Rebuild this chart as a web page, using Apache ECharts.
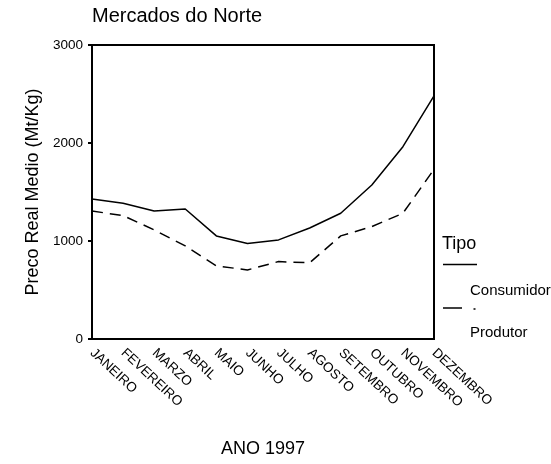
<!DOCTYPE html>
<html><head><meta charset="utf-8">
<script src="https://cdn.jsdelivr.net/npm/echarts@6/dist/echarts.min.js"></script>
<style>html,body{margin:0;padding:0;background:#fff}#c{width:551px;height:464px}</style>
</head><body><div id="c"></div>
<script>
const months = ["JANEIRO","FEVEREIRO","MARZO","ABRIL","MAIO","JUNHO","JULHO","AGOSTO","SETEMBRO","OUTUBRO","NOVEMBRO","DEZEMBRO"];
const consumidor = [1429,1385,1306,1327,1052,974,1011,1133,1283,1571,1962,2481];
const produtor = [1306,1259,1113,950,746,705,790,778,1052,1147,1283,1731];
const seriesNames = ["Consumidor","Produtor"];
const yTicks = [0,1000,2000,3000];
const title = "Mercados do Norte";
const xName = "ANO 1997";
const yName = "Preco Real Medio (Mt/Kg)";
const legendTitle = "Tipo";

const font = "Liberation Sans, Arial, sans-serif";
const chart = echarts.init(document.getElementById('c'));
chart.setOption({
  animation:false,
  backgroundColor:'#fff',
  title:{text:title,left:92,top:6,padding:0,textStyle:{fontFamily:font,fontSize:20,fontWeight:'normal',color:'#000'}},
  grid:{left:92,right:117,top:45,bottom:125,show:true,borderColor:'#000',borderWidth:2,backgroundColor:'transparent'},
  xAxis:{type:'category',data:months,boundaryGap:false,
    axisLine:{lineStyle:{color:'#000',width:2}},axisTick:{show:false},
    axisLabel:{rotate:-43,fontFamily:font,fontSize:13.5,color:'#000',margin:12,interval:0},
    name:xName,nameLocation:'middle',nameGap:101,nameMoveOverlap:false,
    nameTextStyle:{fontFamily:font,fontSize:18,color:'#000',verticalAlign:'top'}},
  yAxis:{type:'value',min:yTicks[0],max:yTicks[yTicks.length-1],interval:1000,
    axisLine:{show:true,lineStyle:{color:'#000',width:2}},axisTick:{show:true,length:4,lineStyle:{color:'#000',width:2}},
    splitLine:{show:false},
    axisLabel:{fontFamily:font,fontSize:13.5,color:'#000',margin:9,formatter:v=>String(v)},
    name:yName,nameLocation:'middle',nameGap:50,nameRotate:90,nameMoveOverlap:false,
    nameTextStyle:{fontFamily:font,fontSize:18,color:'#000'}},
  series:[
    {name:seriesNames[0],type:'line',data:consumidor,symbol:'none',lineStyle:{color:'#000',width:1.5}},
    {name:seriesNames[1],type:'line',data:produtor,symbol:'none',lineStyle:{color:'#000',width:1.5,type:[11,7]}}
  ],
  graphic:[
    {type:'text',left:442,top:235,style:{text:legendTitle,font:'18px '+font,fill:'#000'}},
    {type:'line',shape:{x1:443,y1:264.5,x2:477,y2:264.5},style:{stroke:'#000',lineWidth:1.5}},
    {type:'text',left:470,top:283,style:{text:seriesNames[0],font:'15px '+font,fill:'#000'}},
    {type:'line',shape:{x1:443,y1:308,x2:462,y2:308},style:{stroke:'#000',lineWidth:1.5}},
    {type:'line',shape:{x1:473.5,y1:309,x2:475.5,y2:309},style:{stroke:'#000',lineWidth:1.5}},
    {type:'text',left:470,top:325,style:{text:seriesNames[1],font:'15px '+font,fill:'#000'}}
  ]
});
</script></body></html>
